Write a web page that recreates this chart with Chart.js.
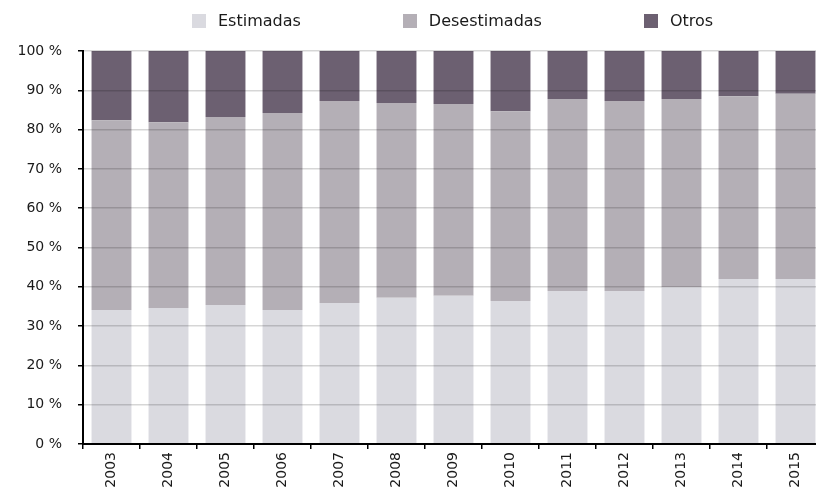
<!DOCTYPE html>
<html>
<head>
<meta charset="utf-8">
<script src="https://cdn.jsdelivr.net/npm/chart.js@4/dist/chart.umd.min.js"></script>
<style>
  html, body { margin: 0; padding: 0; background: #fff; overflow: hidden; }
  #wrap { position: relative; width: 830px; height: 495px; }
  #legend { position: absolute; top: 11px; left: 192px; display: flex; align-items: center;
            font-family: "DejaVu Sans", sans-serif; font-size: 16px; color: #1a1a1a; z-index: 2; }
  .item { display: flex; align-items: center; margin-right: 102px; }
  .box { width: 14px; height: 14px; margin-right: 12px; }
</style>
</head>
<body>
<div id="wrap">
  <div id="legend"></div>
  <canvas id="c"></canvas>
</div>
<script>
const years = ["2003","2004","2005","2006","2007","2008","2009","2010","2011","2012","2013","2014","2015"];
const estimadas    = [34.1, 34.6, 35.4, 34.1, 35.9, 37.2, 37.7, 36.4, 38.9, 38.9, 39.9, 42.0, 42.0];
const desestimadas = [48.3, 47.3, 47.8, 50.1, 51.4, 49.6, 48.8, 48.3, 48.9, 48.4, 47.9, 46.5, 47.1];
const otros        = [17.6, 18.1, 16.8, 15.8, 12.7, 13.2, 13.5, 15.3, 12.2, 12.7, 12.2, 11.5, 10.9];
const seriesNames  = ["Estimadas", "Desestimadas", "Otros"];
const colors       = ["#dadae0", "#b4afb6", "#6c6071"];
const yTicks       = [0, 10, 20, 30, 40, 50, 60, 70, 80, 90, 100];

const seriesData = [estimadas, desestimadas, otros];
const datasets = seriesNames.map((name, i) => ({
  label: name,
  data: seriesData[i],
  backgroundColor: colors[i],
  borderWidth: 0,
  categoryPercentage: 1.0,
  barPercentage: 0.7
}));

// HTML legend
const legend = document.getElementById('legend');
seriesNames.forEach((name, i) => {
  const it = document.createElement('div');
  it.className = 'item';
  const b = document.createElement('div');
  b.className = 'box';
  b.style.background = colors[i];
  const t = document.createElement('span');
  t.textContent = name;
  it.appendChild(b); it.appendChild(t);
  legend.appendChild(it);
});

const font = { family: "'DejaVu Sans', sans-serif", size: 14 };

new Chart(document.getElementById('c'), {
  type: 'bar',
  data: { labels: years, datasets },
  options: {
    responsive: true,
    maintainAspectRatio: false,
    animation: false,
    layout: { padding: { top: 51, right: 6, left: 0, bottom: 0 } },
    plugins: { legend: { display: false }, tooltip: { enabled: false } },
    scales: {
      x: {
        stacked: true,
        grid: { display: true, drawOnChartArea: false, drawTicks: true, tickLength: 5, tickColor: '#000', offset: true, lineWidth: 1.5 },
        border: { display: true, color: '#000', width: 2, z: 2 },
        ticks: { color: '#1a1a1a', font, minRotation: 90, maxRotation: 90, padding: 3, autoSkip: false },
        afterFit: (s) => { s.height = 51; }
      },
      y: {
        stacked: true,
        min: 0, max: 100,
        afterBuildTicks: (s) => { s.ticks = yTicks.map(v => ({ value: v })); },
        grid: { color: 'rgba(0,0,0,0.16)', lineWidth: 1.5, drawTicks: true, tickLength: 5, tickColor: '#000', tickWidth: 1.5, z: 1 },
        border: { display: true, color: '#000', width: 2, z: 2 },
        ticks: { color: '#1a1a1a', font, padding: 16, callback: (v) => v + ' %' },
        afterFit: (s) => { s.width = 83; }
      }
    }
  }
});
</script>
</body>
</html>
